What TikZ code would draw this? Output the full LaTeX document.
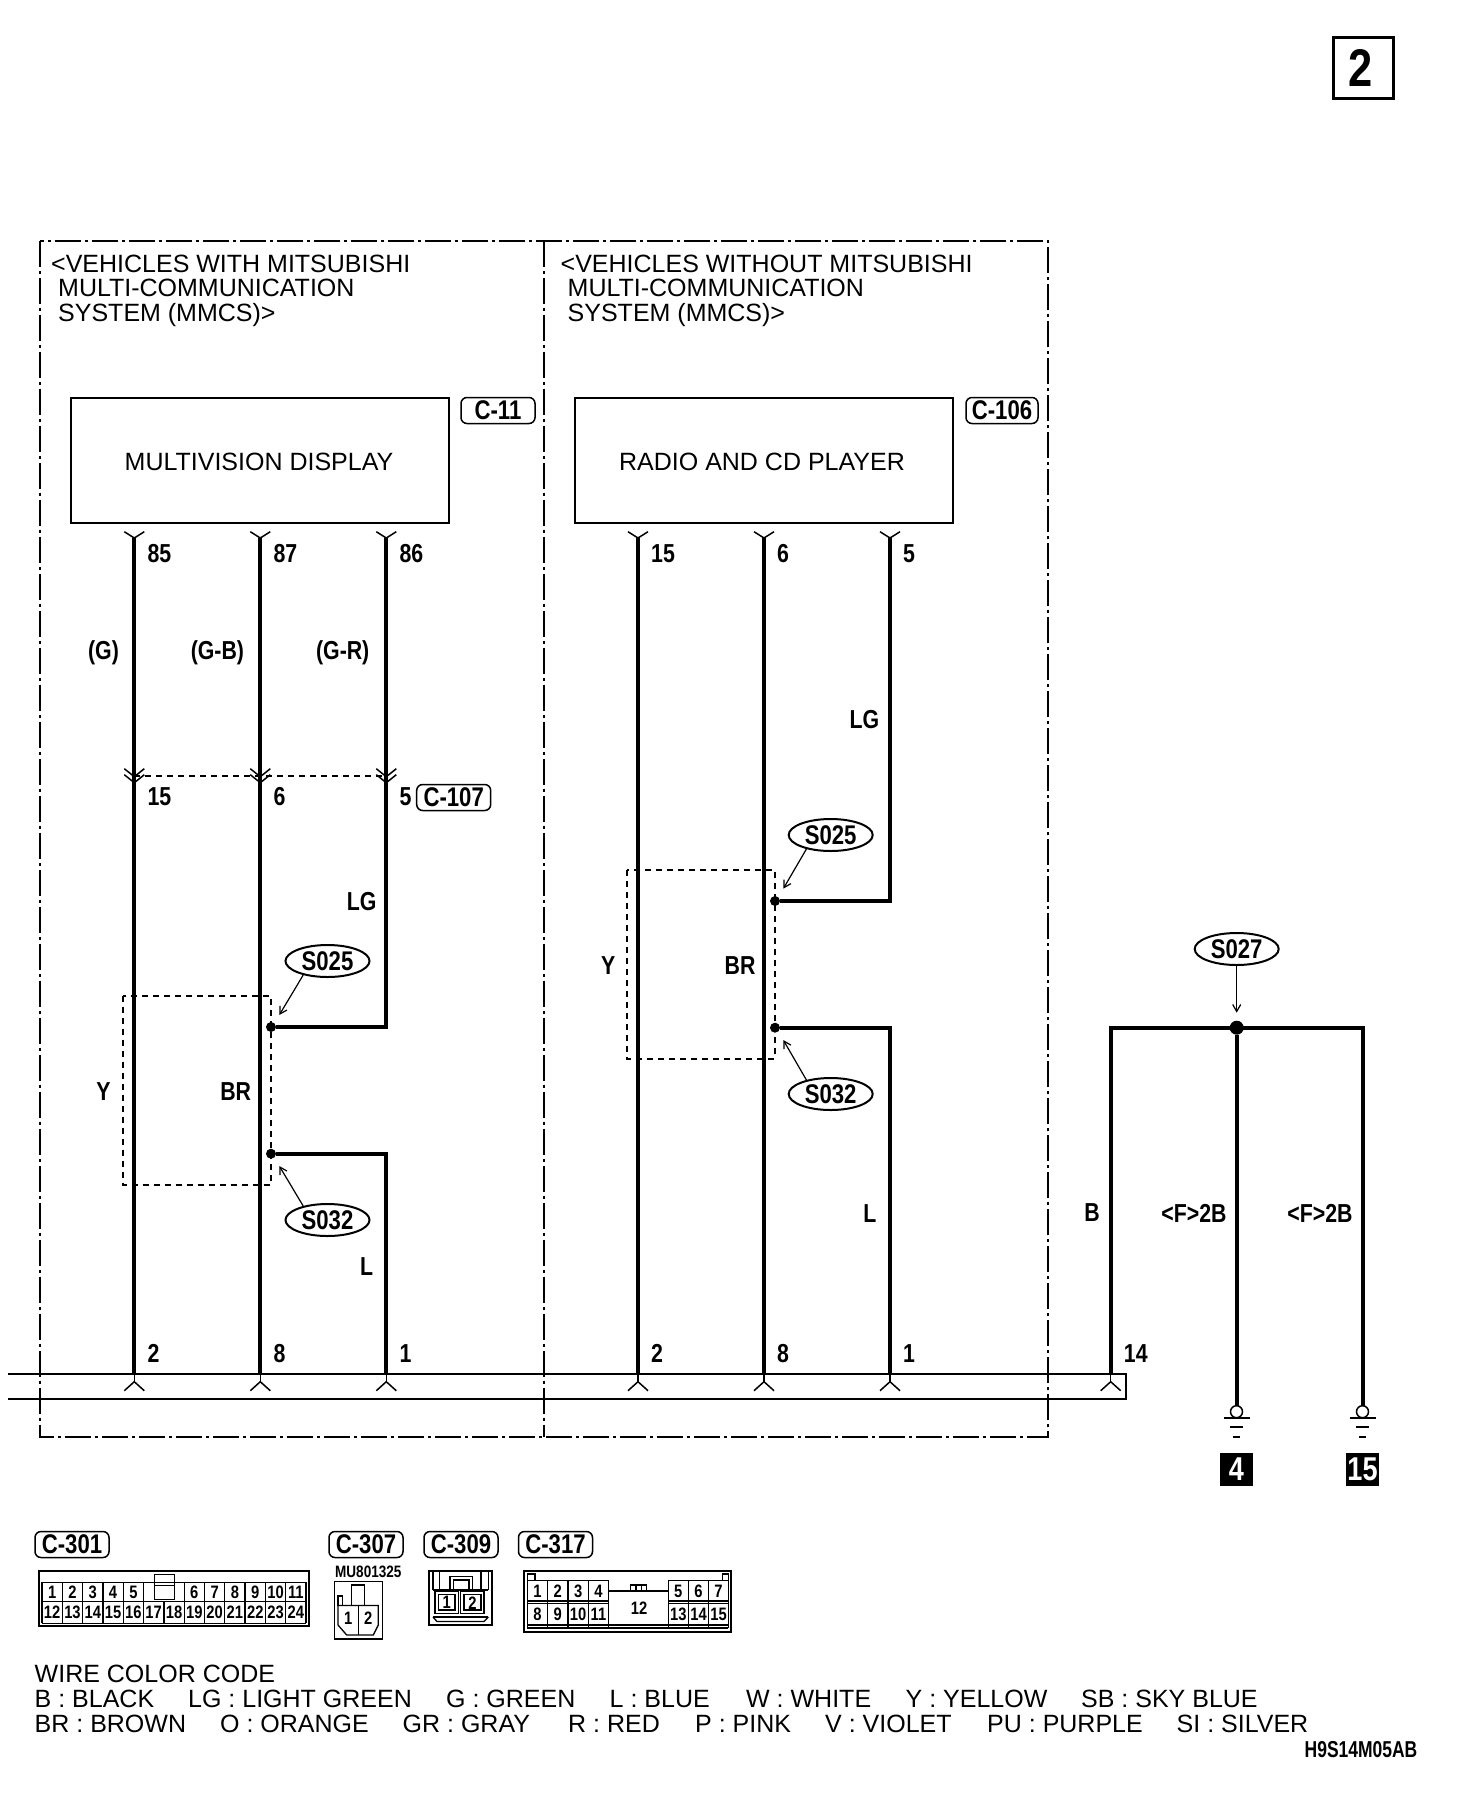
\documentclass[tikz,border=0pt]{standalone}
\usepackage{fontspec}
\setmainfont{Liberation Sans}
\newfontfamily\lblfont{Liberation Sans}[FakeStretch=0.82]
\newfontfamily\lblnarrow{Liberation Sans}[FakeStretch=0.76]
\usetikzlibrary{shapes.geometric,arrows.meta}

\newcommand{\plain}{\fontsize{25}{24.8}\selectfont}
\newcommand{\lbl}[1]{\lblfont\bfseries\fontsize{#1}{#1}\selectfont}
\newcommand{\lbn}[1]{\lblnarrow\bfseries\fontsize{#1}{#1}\selectfont}

\tikzset{
  wire/.style={line width=4pt},
  thinw/.style={line width=1.5pt},
  bus/.style={line width=2pt},
  frameline/.style={line width=2pt,dash pattern=on 26pt off 4pt on 3pt off 4pt},
  dashbox/.style={line width=1.8pt,dash pattern=on 6pt off 5pt},
  callout/.style={line width=1.2pt,-{Straight Barb[length=7pt,width=8pt]}},
  txt/.style={inner sep=0pt,font=\plain},
  pinlbl/.style={inner sep=0pt,anchor=west,font=\lbl{26}},
  colr/.style={inner sep=0pt,font=\lbl{26}},
  ctag/.style={draw,line width=1.5pt,rounded corners=6pt,minimum height=26pt,minimum width=74pt,inner sep=0pt,font=\lbl{27}},
  splice/.style={draw,ellipse,line width=2pt,minimum width=84pt,minimum height=32pt,inner sep=0pt,font=\lbl{27}},
  jdot/.style={circle,fill,inner sep=0pt,minimum size=10pt},
  blk/.style={fill=black,text=white,minimum size=33pt,inner sep=0pt,font=\lbl{33}},
  cell/.style={inner sep=0pt,font=\lbl{18}},
  conn/.style={line width=1.3pt},
  connb/.style={line width=2.2pt}
}

\begin{document}
\begin{tikzpicture}[x=1pt,y=-1pt]
\useasboundingbox (0,0) rectangle (1472,1808);

% sheet number
\draw[line width=3pt] (1333,37) rectangle (1393,98);
\node[inner sep=0pt,font=\lbl{53}] (sheet) at (1361,68) {2};

% frames
\draw[frameline] (40,240.7) rectangle (1047.7,1436.7);
\coordinate (midt) at (543.6,240.7);
\coordinate (midb) at (543.6,1436.7);
\draw[frameline] (midt)--(midb);

\node[txt,anchor=north west,align=left] (headl) at (51,254.5) {<VEHICLES WITH MITSUBISHI\\\hspace*{7pt}MULTI-COMMUNICATION\\\hspace*{7pt}SYSTEM (MMCS)>};
\node[txt,anchor=north west,align=left] (headr) at (560.5,254.5) {<VEHICLES WITHOUT MITSUBISHI\\\hspace*{7pt}MULTI-COMMUNICATION\\\hspace*{7pt}SYSTEM (MMCS)>};

% units
\draw[line width=2pt] (70.7,398) rectangle (449,523);
\draw[line width=2pt] (574.7,398) rectangle (953,523);
\node[txt] (mvd) at (259,462) {MULTIVISION DISPLAY};
\node[txt] (radio) at (762,462) {RADIO AND CD PLAYER};
\node[ctag] (c11) at (498,410.5) {C-11};
\node[ctag,minimum width=72pt] (c106) at (1002,410.5) {C-106};

% bus
\coordinate (busa) at (8,1373.7);
\coordinate (busb) at (1126.3,1373.7);
\coordinate (busc) at (1126.3,1399);
\coordinate (busd) at (8,1399);
\draw[bus] (busa)--(busb)--(busc)--(busd);

% pins top and bottom
\foreach \n/\x in {a/134.3,b/260.3,c/386.3,d/638,e/764,f/890}{
  \coordinate (top\n) at (\x,538);
  \coordinate (bot\n) at (\x,1373.7);
  \draw[thinw] (\x-10,531.7)--(top\n)--(\x+10,531.7);
}
\foreach \n/\x in {a/134.3,b/260.3,c/386.3,d/638,e/764,f/890,g/1110.7}{
  \draw[thinw] (\x-10,1390.7)--(\x,1381.7)--(\x+10,1390.7);
  \draw[thinw] (\x,1373.7)--(\x,1381.7);
}

% wires, left
\node[jdot] (dla) at (271,1027) {};
\node[jdot] (dlb) at (271,1153.7) {};
\draw[wire] (topa)--(bota);
\draw[wire] (topb)--(botb);
\draw[wire] (topc)--(topc|-dla)--(dla);
\draw[wire] (botc)--(botc|-dlb)--(dlb);

% wires, right
\node[jdot] (dra) at (775,901) {};
\node[jdot] (drb) at (775,1027.7) {};
\draw[wire] (topd)--(botd);
\draw[wire] (tope)--(bote);
\draw[wire] (topf)--(topf|-dra)--(dra);
\draw[wire] (botf)--(botf|-drb)--(drb);

% connector C-107
\foreach \n/\x in {a/134.3,b/260.3,c/386.3}{
  \coordinate (m\n) at (\x,775.7);
  \draw[thinw] (\x-10,768.7)--(\x,776.7)--(\x+10,768.7);
  \draw[thinw] (\x-10,774.7)--(\x,782.7)--(\x+10,774.7);
}
\draw[dashbox] (ma)--(mb)--(mc);
\node[ctag] (c107) at (453.7,797.5) {C-107};

% shield boxes
\draw[dashbox] (122.7,995.7) rectangle (271,1184.7);
\draw[dashbox] (627,870) rectangle (775,1058.7);

% splices
\node[splice] (s25l) at (327.5,961) {S025};
\node[splice] (s32l) at (327.5,1220) {S032};
\coordinate (a25l) at (279.3,1015);
\coordinate (a32l) at (279.3,1166);
\draw[callout] (s25l.210)--(a25l);
\draw[callout] (s32l.150)--(a32l);
\node[splice] (s25r) at (830.7,835) {S025};
\node[splice] (s32r) at (830.7,1094) {S032};
\coordinate (a25r) at (783.3,888.7);
\coordinate (a32r) at (783.3,1040);
\draw[callout] (s25r.210)--(a25r);
\draw[callout] (s32r.150)--(a32r);

% ground side
\node[jdot,minimum size=14pt] (dg) at (1236.7,1027.7) {};
\coordinate (topg) at (1110.7,1027.7);
\coordinate (topi) at (1362.7,1027.7);
\coordinate (botg) at (1110.7,1373.7);
\coordinate (both) at (1236.7,1406);
\coordinate (boti) at (1362.7,1406);
\draw[wire] (botg)--(topg)--(topi)--(boti);
\draw[wire] (dg)--(both);
\node[splice] (s27) at (1236.7,949) {S027};
\coordinate (a27) at (1236.7,1012.7);
\draw[callout] (s27)--(a27);
\foreach \x/\n/\t in {1236.5/gf/4,1362.5/gn/15}{
  \draw[line width=1.5pt,fill=white] (\x,1411.7) circle (6pt);
  \draw[line width=1.5pt] (\x-13,1418)--(\x+13,1418);
  \draw[line width=2pt] (\x-6.5,1427.3)--(\x+6.5,1427.3);
  \draw[line width=2pt] (\x-3.5,1436.7)--(\x+3.5,1436.7);
  \node[blk] (\n) at (\x,1469) {\t};
}

% pin numbers
\foreach \n/\x/\t in {pa/134.3/85,pb/260.3/87,pc/386.3/86,pd/638/15,pe/764/6,pf/890/5}
  \node[pinlbl] (\n) at (\x+13,553.5) {\t};
\foreach \n/\x/\t in {qa/134.3/15,qb/260.3/6,qc/386.3/5}
  \node[pinlbl] (\n) at (\x+13,796.7) {\t};
\foreach \n/\x/\t in {ra/134.3/2,rb/260.3/8,rc/386.3/1,rd/638/2,re/764/8,rf/890/1,rg/1110.7/14}
  \node[pinlbl] (\n) at (\x+13,1353.3) {\t};

% wire colours
\foreach \n/\x/\y/\t in {ca/103.5/653/(G),cb/217.4/653/(G-B),cc/342.7/653/(G-R),cd/361.7/901.7/LG,ce/103.5/1091.7/Y,cf/235.7/1091.7/BR,cg/366.7/1267/L,ch/864.5/720/LG,ci/608.3/965.7/Y,cj/740/965.7/BR,ck/870/1214/L,cl/1092/1213/B}
  \node[colr] (\n) at (\x,\y) {\t};
\node[colr] (cm) at (1194,1213) {<F>2B};
\node[colr] (cn) at (1320,1213) {<F>2B};

% connector tags
\node[ctag] (c301) at (72,1544.5) {C-301};
\node[ctag] (c307) at (366,1544.5) {C-307};
\node[ctag] (c309) at (461,1544.5) {C-309};
\node[ctag] (c317) at (555.5,1544.5) {C-317};

% C-301
\draw[connb] (39.3,1570.7) rectangle (309.3,1626);
\draw[conn] (42,1582.3)--(306,1582.3);
\draw[conn] (42,1601.7)--(306,1601.7);
\draw[conn] (42,1623.3)--(306,1623.3);
\foreach \k in {0,...,13}
  \draw[conn] ({42+20.31*\k},1601.7)--({42+20.31*\k},1623.3);
\foreach \k in {0,1,2,3,4,5,7,8,9,10,11,12,13}
  \draw[conn] ({42+20.31*\k},1582.3)--({42+20.31*\k},1601.7);
\draw[line width=1pt] (154,1585) rectangle (174,1599.3);
\draw[line width=1pt] (154,1585) rectangle (174,1574);
\foreach \t/\k in {1/0,2/1,3/2,4/3,5/4,6/7,7/8,8/9,9/10,10/11,11/12}
  \node[cell] (ca\t) at ({42+20.31*(\k+.5)},1592) {\t};
\foreach \t [count=\k from 0] in {12,...,24}
  \node[cell] (ca\t) at ({42+20.31*(\k+.5)},1612.5) {\t};

% C-307
\node[inner sep=0pt,font=\lbl{16.5}] (part) at (368.3,1571.7) {MU801325};
\draw[conn] (334.3,1581.7) rectangle (382.7,1639.3);
\draw[connb] (334.3,1639.3)--(382.7,1639.3);
\draw[conn] (351.7,1605.5)--(351.7,1585)--(364.3,1585)--(364.3,1605.5);
\draw[conn] (338,1605.5)--(338,1596)--(342.7,1596)--(342.7,1605.5);
\draw[conn] (338,1605.5)--(378.3,1605.5)--(378.3,1625)--(373.3,1635)--(346.7,1635)--(338,1625)--cycle;
\draw[conn] (358.3,1605.5)--(358.3,1635);
\node[cell] (cb1) at (348.3,1618.3) {1};
\node[cell] (cb2) at (368.3,1618.3) {2};

% C-309
\draw[connb] (429,1570.7) rectangle (492.3,1625);
\draw[conn] (433,1571)--(433,1590);
\draw[conn] (439.3,1571)--(439.3,1590);
\draw[conn] (481,1571)--(481,1590);
\draw[conn] (488.3,1571)--(488.3,1590);
\draw[conn] (450,1590)--(450,1576.7)--(472.7,1576.7)--(472.7,1590);
\draw[conn] (453.5,1590)--(453.5,1580)--(469,1580)--(469,1590);
\draw[conn] (433,1590)--(488.3,1590);
\draw[conn] (435,1591.7) rectangle (458.3,1613.3);
\draw[conn] (438.5,1594.5) rectangle (455,1610);
\draw[conn] (460.7,1591.7) rectangle (484,1613.3);
\draw[conn] (464,1594.5) rectangle (481,1610);
\draw[conn] (433,1617)--(488.3,1617);
\draw[conn] (433,1617)--(437,1621.5)--(484,1621.5)--(488.3,1617);
\node[cell] (cc1) at (446.7,1602.7) {1};
\node[cell] (cc2) at (472.5,1602.7) {2};

% C-317
\draw[connb] (524,1570.7) rectangle (731,1631.7);
\draw[conn] (527.3,1574) rectangle (535,1580.7);
\draw[conn] (722.3,1574) rectangle (728.3,1580.7);
\draw[conn] (527.3,1580.7)--(608.7,1580.7);
\draw[conn] (668.3,1580.7)--(728.3,1580.7);
\draw[conn] (608.7,1591)--(668.3,1591);
\draw[conn] (630.7,1591)--(630.7,1585)--(646.7,1585)--(646.7,1591);
\draw[conn] (636,1585)--(636,1591);
\draw[conn] (641.5,1585)--(641.5,1591);
\foreach \x in {527.3,547.6,568,588.3,608.7,668.3,688.3,708.7,728.3}
  \draw[conn] (\x,1580.7)--(\x,1628);
\draw[conn] (527.3,1601)--(608.7,1601);
\draw[conn] (527.3,1603.3)--(608.7,1603.3);
\draw[conn] (668.3,1601)--(728.3,1601);
\draw[conn] (668.3,1603.3)--(728.3,1603.3);
\draw[connb] (527.3,1625)--(728.3,1625);
\draw[conn] (527.3,1628)--(728.3,1628);
\foreach \t/\x in {1/537.4,2/557.8,3/578.2,4/598.5,5/678.3,6/698.5,7/718.5}
  \node[cell] (cd\t) at (\x,1591) {\t};
\foreach \t/\x in {8/537.4,9/557.8,10/578.2,11/598.5,13/678.3,14/698.5,15/718.5}
  \node[cell] (cd\t) at (\x,1614.5) {\t};
\node[cell] (cd12) at (639,1608.3) {12};

% wire colour code
\node[txt,anchor=base west] (lega) at (34.5,1682.5) {WIRE COLOR CODE};
\foreach \n/\x/\t in {b/34.5/B : BLACK,c/188/LG : LIGHT GREEN,d/446/G : GREEN,e/609.5/L : BLUE,f/746/W : WHITE,g/905.5/Y : YELLOW,h/1081/SB : SKY BLUE}
  \node[txt,anchor=base west] (leg\n) at (\x,1707) {\t};
\foreach \n/\x/\t in {i/34.5/BR : BROWN,j/220/O : ORANGE,k/402.5/GR : GRAY,l/568/R : RED,m/695/P : PINK,n/825/V : VIOLET,o/987/PU : PURPLE,p/1176.5/SI : SILVER}
  \node[txt,anchor=base west] (leg\n) at (\x,1732.5) {\t};
\node[inner sep=0pt,font=\lbn{23}] (code) at (1361,1750) {H9S14M05AB};

\end{tikzpicture}
\end{document}
